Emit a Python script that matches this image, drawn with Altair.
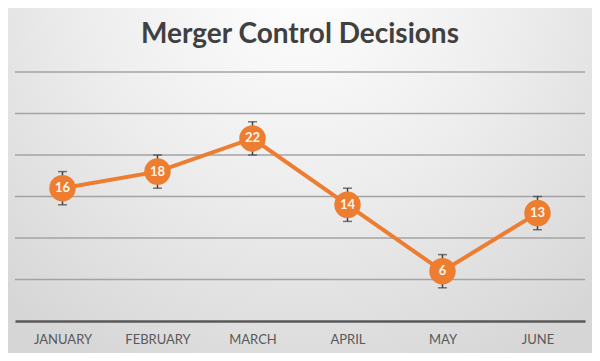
import altair as alt
import pandas as pd

months = ["JANUARY", "FEBRUARY", "MARCH", "APRIL", "MAY", "JUNE"]
decisions = [16, 18, 22, 14, 6, 13]
errors = [2, 2, 2, 2, 2, 2]
grid_values = [5, 10, 15, 20, 25, 30]
title_text = "Merger Control Decisions"

df = pd.DataFrame({"month": months, "value": decisions, "err": errors})
df["lo"] = df["value"] - df["err"]
df["hi"] = df["value"] + df["err"]
gdf = pd.DataFrame({"g": grid_values})

W, H = 570, 249
ORANGE = "#ed7d31"

xenc = alt.X("month:N", sort=months, scale=alt.Scale(type="point", padding=0.5),
             axis=alt.Axis(title=None, labelFont="Lato", labelFontSize=13, labelColor="#595959",
                           labelPadding=12, ticks=False, domain=True, domainColor="#595959",
                           domainWidth=2.5, grid=False, labelAngle=0, zindex=1))
yscale = alt.Scale(domain=[0, 30], nice=False)

bg = alt.Chart(pd.DataFrame({"a": [0]})).mark_rect(
    fill={"gradient": "radial", "x1": 0.5, "y1": 0.15, "r1": 0.0,
          "x2": 0.5, "y2": 0.15, "r2": 0.75,
          "stops": [{"offset": 0, "color": "#ffffff"},
                    {"offset": 0.5, "color": "#ededed"},
                    {"offset": 1, "color": "#d6d6d6"}]}
).encode(x=alt.value(-7), x2=alt.value(W + 7), y=alt.value(-64), y2=alt.value(H + 32))

title = alt.Chart(pd.DataFrame({"t": [title_text]})).mark_text(
    font="Lato", fontSize=28, fontWeight="bold", color="#404040",
    align="center", baseline="alphabetic"
).encode(text="t:N", x=alt.value(W / 2), y=alt.value(-29))

grid = alt.Chart(gdf).mark_rule(color="#a3a3a3", strokeWidth=1.5).encode(
    y=alt.Y("g:Q", scale=yscale, axis=None), x=alt.value(0), x2=alt.value(W))

base = alt.Chart(df)

rules = base.mark_rule(color="#404040", strokeWidth=1.5).encode(
    x=xenc, y=alt.Y("lo:Q", scale=yscale, axis=None), y2="hi:Q")
caps_hi = base.mark_tick(color="#404040", thickness=1.5, size=9, orient="horizontal").encode(
    x=xenc, y=alt.Y("hi:Q", scale=yscale))
caps_lo = base.mark_tick(color="#404040", thickness=1.5, size=9, orient="horizontal").encode(
    x=xenc, y=alt.Y("lo:Q", scale=yscale))
line = base.mark_line(color=ORANGE, strokeWidth=4).encode(
    x=xenc, y=alt.Y("value:Q", scale=yscale))
pts = base.mark_circle(color=ORANGE, opacity=1, size=700).encode(
    x=xenc, y=alt.Y("value:Q", scale=yscale))
txt = base.mark_text(color="#fff6ea", font="Lato", fontWeight="bold", fontSize=13,
                     baseline="middle", align="center").encode(
    x=xenc, y=alt.Y("value:Q", scale=yscale), text="value:Q")

chart = alt.layer(bg, title, grid, rules, caps_hi, caps_lo, line, pts, txt).properties(
    width=W, height=H,
    autosize=alt.AutoSizeParams(type="none"),
    padding={"left": 7, "right": 7, "top": 64, "bottom": 32},
).configure_view(stroke=None).configure(background="#dcdcdc")

chart.save("out.html", embed_options={"renderer": "svg", "actions": False})
